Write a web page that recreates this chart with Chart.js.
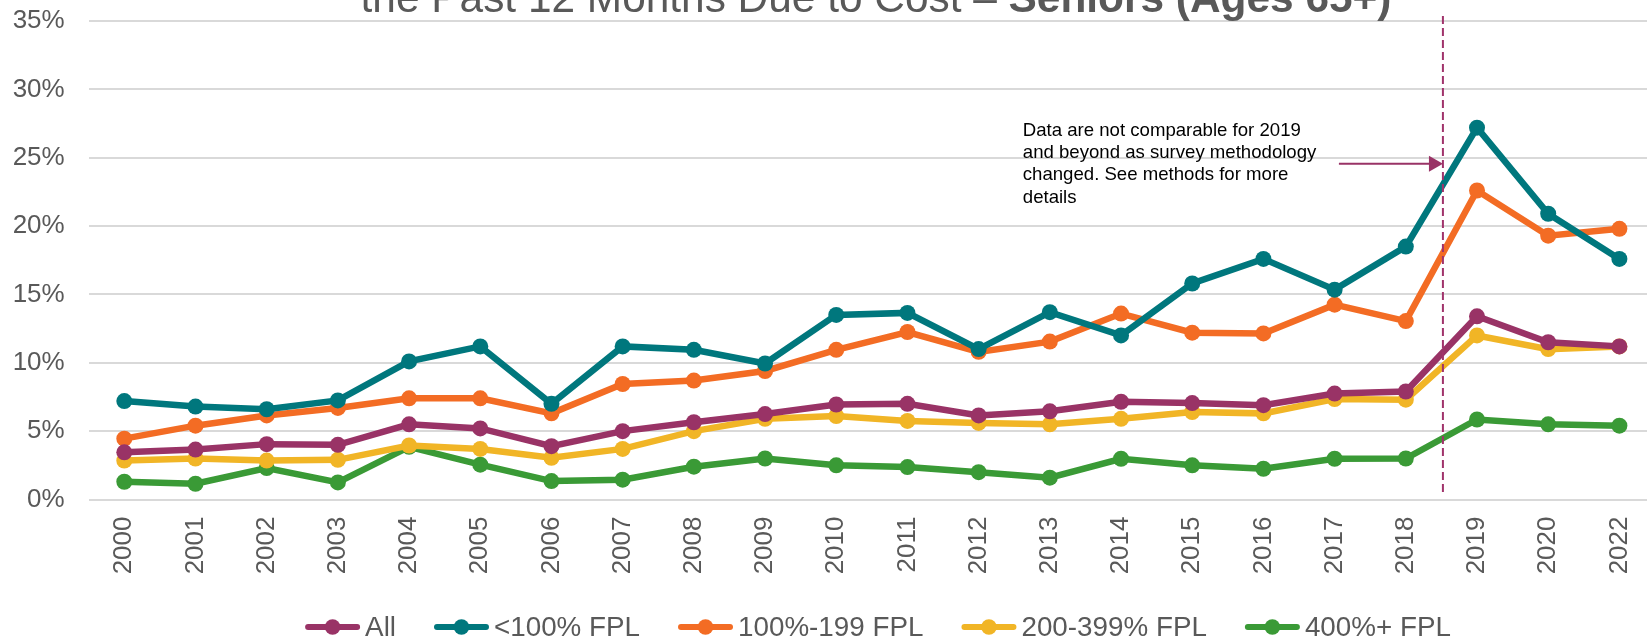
<!DOCTYPE html>
<html>
<head>
<meta charset="utf-8">
<script src="https://cdn.jsdelivr.net/npm/chart.js@4.4.1/dist/chart.umd.min.js"></script>
<style>
  html, body { margin: 0; padding: 0; background: #ffffff; width: 1647px; height: 640px; overflow: hidden; }
  #wrap { width: 1756px; height: 640px; position: relative; }
  canvas { display: block; }
</style>
</head>
<body>
<div id="wrap"><canvas id="c" width="1756" height="640" style="width:1756px;height:640px"></canvas></div>
<script>
const categories = ['2000','2001','2002','2003','2004','2005','2006','2007','2008','2009','2010','2011','2012','2013','2014','2015','2016','2017','2018','2019','2020','2022'];
const seriesNames = ['All', '<100% FPL', '100%-199 FPL', '200-399% FPL', '400%+ FPL'];
const allValues = [3.45, 3.65, 4.05, 4.0, 5.5, 5.2, 3.9, 5.0, 5.65, 6.25, 6.95, 7.0, 6.15, 6.45, 7.15, 7.05, 6.9, 7.75, 7.9, 13.4, 11.5, 11.2];
const below100Values = [7.2, 6.8, 6.6, 7.25, 10.1, 11.2, 7.0, 11.2, 10.95, 9.95, 13.5, 13.65, 11.0, 13.7, 12.0, 15.8, 17.6, 15.35, 18.5, 27.2, 20.9, 17.6];
const fpl100to199Values = [4.45, 5.4, 6.15, 6.7, 7.4, 7.4, 6.3, 8.45, 8.7, 9.4, 10.95, 12.25, 10.8, 11.55, 13.6, 12.2, 12.15, 14.25, 13.05, 22.6, 19.3, 19.8];
const fpl200to399Values = [2.85, 3.0, 2.85, 2.9, 3.95, 3.7, 3.05, 3.7, 5.0, 5.9, 6.1, 5.75, 5.6, 5.5, 5.9, 6.4, 6.3, 7.35, 7.3, 12.0, 11.0, 11.2];
const fpl400plusValues = [1.3, 1.15, 2.3, 1.25, 3.85, 2.55, 1.35, 1.45, 2.4, 3.0, 2.5, 2.37, 2.0, 1.6, 2.98, 2.5, 2.25, 2.98, 3.0, 5.85, 5.5, 5.4];
const yTicks = [0, 5, 10, 15, 20, 25, 30, 35];
const titleVisible = 'the Past 12 Months Due to Cost – ';
const titleBold = 'Seniors (Ages 65+)';
const noteLines = ['Data are not comparable for 2019', 'and beyond as survey methodology', 'changed. See methods for more', 'details'];

const colors = ['#993366', '#00777D', '#F36C24', '#F1B526', '#3A9A36'];
const valuesList = [allValues, below100Values, fpl100to199Values, fpl200to399Values, fpl400plusValues];
const FONT = '"Liberation Sans", Arial, sans-serif';

const datasets = seriesNames.map((name, i) => ({
  label: name,
  data: valuesList[i],
  borderColor: colors[i],
  backgroundColor: colors[i],
  pointBackgroundColor: colors[i],
  pointBorderColor: colors[i],
  borderWidth: 6.5,
  pointRadius: 8,
  pointHoverRadius: 8,
  pointBorderWidth: 0,
  tension: 0,
  fill: false,
  clip: false
}));

const overlay = {
  id: 'overlay',
  afterDatasetsDraw(chart) {
    const ctx = chart.ctx;
    const xs = chart.scales.x, ys = chart.scales.y;
    ctx.save();
    // dashed divider between 2018 and 2019
    const xd = (xs.getPixelForValue(18) + xs.getPixelForValue(19)) / 2 + 1.5;
    ctx.strokeStyle = '#A0336B';
    ctx.lineWidth = 2;
    ctx.setLineDash([8, 4]);
    ctx.beginPath();
    ctx.moveTo(xd, ys.getPixelForValue(35) - 5);
    ctx.lineTo(xd, ys.getPixelForValue(0) - 5);
    ctx.stroke();
    ctx.setLineDash([]);
    // arrow
    const ya = ys.getPixelForValue(24.56);
    const xTip = xd;
    ctx.strokeStyle = '#993366';
    ctx.fillStyle = '#993366';
    ctx.lineWidth = 2.2;
    ctx.beginPath(); ctx.moveTo(xTip - 104, ya); ctx.lineTo(xTip - 12, ya); ctx.stroke();
    ctx.beginPath(); ctx.moveTo(xTip, ya); ctx.lineTo(xTip - 14, ya - 8); ctx.lineTo(xTip - 14, ya + 8); ctx.closePath(); ctx.fill();
    // note text
    ctx.fillStyle = '#000000';
    ctx.font = '18.6px ' + FONT;
    ctx.textAlign = 'left';
    ctx.textBaseline = 'middle';
    const tx = xs.getPixelForValue(12.62);
    const ty0 = ys.getPixelForValue(26.98);
    noteLines.forEach((l, i) => ctx.fillText(l, tx, ty0 + i * 22.3));
    // cut-off title
    ctx.fillStyle = '#595959';
    ctx.textBaseline = 'alphabetic';
    const fn = '42.4px ' + FONT;
    const fb = 'bold 42.4px ' + FONT;
    ctx.font = fn; const w1 = ctx.measureText(titleVisible).width;
    ctx.font = fb; const w2 = ctx.measureText(titleBold).width;
    const cx = chart.width / 2 - 2;
    const x0 = cx - (w1 + w2) / 2;
    ctx.font = fn; ctx.fillText(titleVisible, x0, 11.5);
    ctx.font = fb; ctx.fillText(titleBold, x0 + w1, 11.5);
    // legend
    const lf = '27.8px ' + FONT;
    ctx.font = lf;
    const markW = 55, markGap = 5, itemGap = 38;
    const widths = seriesNames.map(n => markW + markGap + ctx.measureText(n).width);
    const total = widths.reduce((a, b) => a + b, 0) + itemGap * (seriesNames.length - 1);
    let lx = chart.width / 2 - total / 2;
    const ly = 627;
    seriesNames.forEach((n, i) => {
      ctx.strokeStyle = colors[i];
      ctx.fillStyle = colors[i];
      ctx.lineWidth = 6;
      ctx.lineCap = 'round';
      ctx.beginPath(); ctx.moveTo(lx + 3, ly); ctx.lineTo(lx + markW - 3, ly); ctx.stroke();
      ctx.beginPath(); ctx.arc(lx + markW / 2, ly, 7.8, 0, Math.PI * 2); ctx.fill();
      ctx.fillStyle = '#595959';
      ctx.textBaseline = 'middle';
      ctx.fillText(n, lx + markW + markGap, ly + 1);
      lx += widths[i] + itemGap;
    });
    ctx.restore();
  }
};

new Chart(document.getElementById('c'), {
  type: 'line',
  data: { labels: categories, datasets },
  options: {
    responsive: false,
    devicePixelRatio: 1,
    animation: false,
    layout: { padding: { top: 21, right: 101, left: 0, bottom: 0 } },
    scales: {
      x: {
        offset: true,
        grid: { display: false },
        border: { display: false },
        afterFit(scale) { scale.height = 140.5; scale.paddingLeft = 0; scale.paddingRight = 0; },
        ticks: {
          color: '#595959',
          font: { family: FONT, size: 26 },
          minRotation: 90, maxRotation: 90,
          padding: 9,
          autoSkip: false
        }
      },
      y: {
        min: 0, max: 35,
        afterBuildTicks(scale) { scale.ticks = yTicks.map(v => ({ value: v })); },
        afterFit(scale) { scale.width = 88.7; scale.paddingTop = 0; scale.paddingBottom = 0; },
        grid: { color: '#D9D9D9', lineWidth: 2, drawTicks: false },
        border: { display: false },
        ticks: {
          color: '#595959',
          font: { family: FONT, size: 26 },
          padding: 24,
          callback: v => v + '%'
        }
      }
    },
    plugins: {
      legend: { display: false },
      tooltip: { enabled: false }
    }
  },
  plugins: [overlay]
});
</script>
</body>
</html>
